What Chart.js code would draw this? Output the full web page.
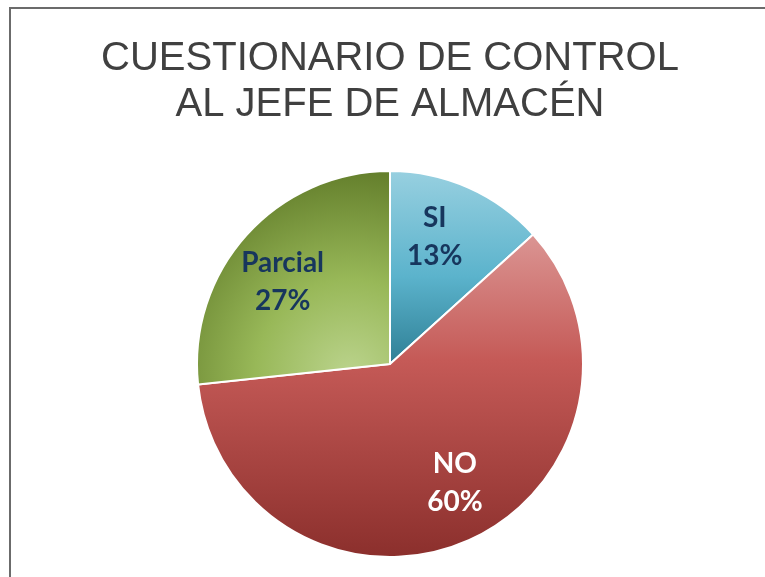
<!DOCTYPE html>
<html>
<head>
<meta charset="utf-8">
<script src="https://cdn.jsdelivr.net/npm/chart.js@4.4.1/dist/chart.umd.min.js"></script>
<style>
  html, body { margin: 0; padding: 0; background: #ffffff; }
  #wrap { width: 765px; height: 577px; }
</style>
</head>
<body>
<div id="wrap"><canvas id="piechart" width="765" height="577"></canvas></div>
<script>
const titleLines = ['CUESTIONARIO DE CONTROL', 'AL JEFE DE ALMACÉN'];
const categories = ['SI', 'NO', 'Parcial'];
const percents = [13.3, 60, 26.7];

// top / bottom colours of each slice gradient
const topColors = ['#98d0e0', '#dc9896', '#647f2c'];
const bottomColors = ['#2f7f95', '#8b2f2c', '#b9d28a'];
const labelColors = ['#17365d', '#ffffff', '#17365d'];

function sliceFill(context) {
    const chart = context.chart;
    const area = chart.chartArea;
    const i = context.dataIndex;
    if (!area) return topColors[i];
    const ctx = chart.ctx;
    const cx = (area.left + area.right) / 2;
    const cy = (area.top + area.bottom) / 2;
    const r = Math.min(area.width, area.height) / 2;
    let g;
    if (i === 2) {
        g = ctx.createRadialGradient(cx - 40, cy + 10, 5, cx - 40, cy + 10, r * 1.05);
        g.addColorStop(0, bottomColors[i]);
        g.addColorStop(0.45, '#98b858');
        g.addColorStop(1, topColors[i]);
    } else if (i === 0) {
        g = ctx.createLinearGradient(0, cy - r, 0, cy);
        g.addColorStop(0, topColors[i]);
        g.addColorStop(0.55, '#5bb3cc');
        g.addColorStop(1, bottomColors[i]);
    } else {
        g = ctx.createLinearGradient(0, cy - r * 0.7, 0, cy + r);
        g.addColorStop(0, topColors[i]);
        g.addColorStop(0.4, '#c55a57');
        g.addColorStop(1, bottomColors[i]);
    }
    return g;
}

const framePlugin = {
    id: 'frame',
    beforeDraw(chart) {
        const ctx = chart.ctx;
        ctx.save();
        ctx.strokeStyle = '#6b6b6b';
        ctx.lineWidth = 2;
        ctx.beginPath();
        ctx.moveTo(10, 577);
        ctx.lineTo(10, 8);
        ctx.lineTo(765, 8);
        ctx.stroke();
        ctx.restore();
    }
};

const sliceLabels = {
    id: 'sliceLabels',
    afterDatasetsDraw(chart) {
        const ctx = chart.ctx;
        const meta = chart.getDatasetMeta(0);
        const total = percents.reduce((a, b) => a + b, 0);
        ctx.save();
        ctx.font = 'bold 28px Lato';
        ctx.textAlign = 'center';
        ctx.textBaseline = 'middle';
        meta.data.forEach((arc, i) => {
            const p = arc.getProps(['x', 'y', 'startAngle', 'endAngle', 'outerRadius'], true);
            const mid = (p.startAngle + p.endAngle) / 2 - 0.08;
            const d = p.outerRadius * 0.70;
            const x = p.x + Math.cos(mid) * d;
            const y = p.y + Math.sin(mid) * d;
            ctx.fillStyle = labelColors[i];
            ctx.fillText(categories[i], x, y - 19);
            ctx.fillText(Math.round(percents[i] / total * 100) + '%', x, y + 19);
        });
        ctx.restore();
    }
};

new Chart('piechart', {
    type: 'pie',
    data: {
        labels: categories,
        datasets: [{
            data: percents,
            backgroundColor: sliceFill,
            borderColor: '#ffffff',
            borderWidth: 2
        }]
    },
    options: {
        responsive: false,
        animation: false,
        layout: { padding: { left: 15, right: 0, top: 0, bottom: 19 } },
        plugins: {
            legend: { display: false },
            tooltip: { enabled: false },
            title: {
                display: true,
                text: titleLines,
                color: '#404040',
                font: { family: 'Liberation Sans', size: 40, weight: 'normal', lineHeight: 1.15 },
                padding: { top: 36, bottom: 42 }
            }
        }
    },
    plugins: [framePlugin, sliceLabels]
});
</script>
</body>
</html>
